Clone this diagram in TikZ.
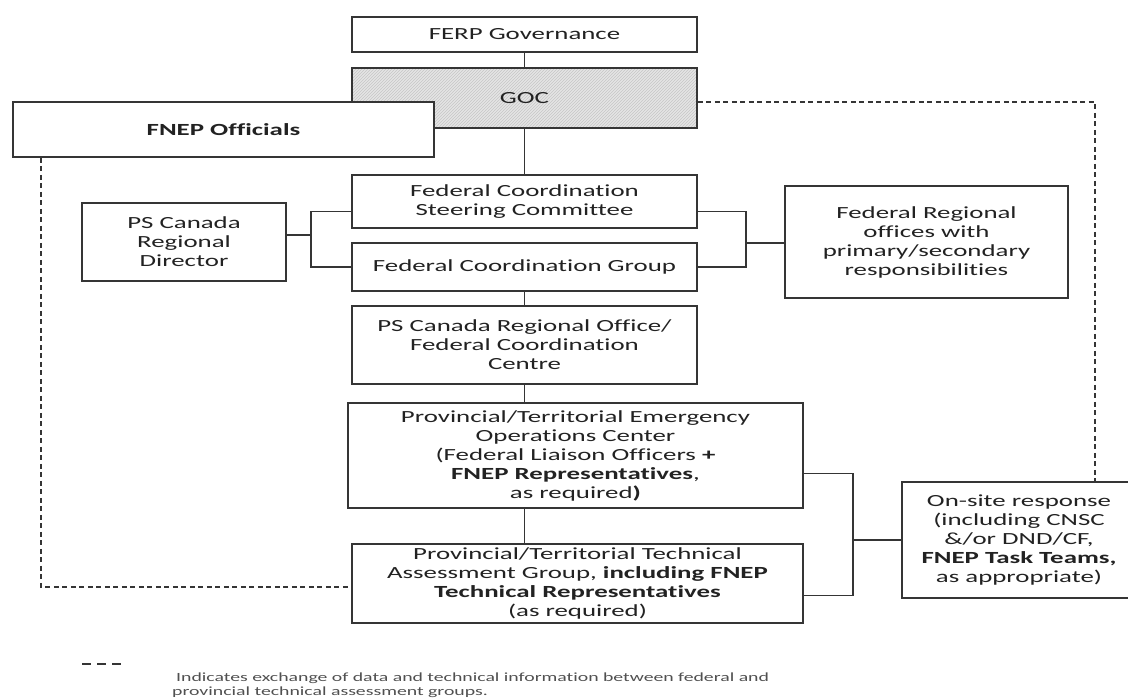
\documentclass[tikz,border=0pt]{standalone}
\usepackage{fontspec}
\setmainfont{Carlito}[FakeStretch=1.58, Ligatures=NoCommon]
\usetikzlibrary{patterns}
\definecolor{linegray}{HTML}{353535}
\definecolor{textgray}{HTML}{222222}
\definecolor{notegray}{HTML}{505050}
\tikzset{
  orgbox/.style={draw=linegray, line width=1.8pt, fill=white, align=center, inner sep=0pt,
    text=textgray, font=\fontsize{17}{19}\selectfont},
  hatchbox/.style={orgbox, preaction={fill=gray!20}, pattern=north east lines, pattern color=gray!45},
  link/.style={draw=linegray, line width=1.5pt},
  datalink/.style={draw=linegray, line width=1.5pt, dash pattern=on 5pt off 3.5pt},
  keydash/.style={draw=linegray, line width=1.6pt, dash pattern=on 9pt off 6pt},
  notetext/.style={align=left, inner sep=0pt, text=notegray, font=\fontsize{12.5}{14}\selectfont}
}
\begin{document}
\begin{tikzpicture}[x=1pt, y=-1pt]
    \fill[white] (0,0) rectangle (1128,698);
    \useasboundingbox (0,0) rectangle (1128,698);
    % Nodes
    \node[orgbox, minimum width=345, minimum height=35] (ferp) at (524.5,34.5) {FERP Governance};
    \node[hatchbox, minimum width=345, minimum height=60] (goc) at (524.5,98) {GOC};
    \node[orgbox, minimum width=421, minimum height=55] (fnep) at (223.5,129.5) {\textbf{FNEP Officials}};

    \node[orgbox, minimum width=345, minimum height=53] (fcsc) at (524.5,201.5) {Federal Coordination\\Steering Committee};
    \node[orgbox, minimum width=345, minimum height=48] (fcg) at (524.5,267) {Federal Coordination Group};
    \node[orgbox, minimum width=204, minimum height=78] (psrd) at (184,242) {PS Canada\\Regional\\Director};
    \node[orgbox, minimum width=283, minimum height=112] (fro) at (926.5,242) {Federal Regional\\offices with\\primary/secondary\\responsibilities};

    \node[orgbox, minimum width=345, minimum height=78] (psro) at (524.5,345) {PS Canada Regional Office/\\Federal Coordination\\Centre};
    \node[orgbox, minimum width=455, minimum height=105] (pteoc) at (575.5,455.5) {Provincial/Territorial Emergency\\Operations Center\\(Federal Liaison Officers \textbf{+}\\\textbf{FNEP Representatives},\\as required\textbf{)}};
    \node[orgbox, minimum width=451, minimum height=79] (pttag) at (577.5,583.5) {Provincial/Territorial Technical\\Assessment Group, \textbf{including FNEP}\\\textbf{Technical Representatives}\\(as required)};
    \node[orgbox, minimum width=234, minimum height=116] (onsite) at (1019,540) {On-site response\\(including CNSC\\\&/or DND/CF,\\\textbf{FNEP Task Teams,}\\as appropriate)};

    \coordinate (lbr) at (311,235);
    \coordinate (rbr) at (746,243);
    \coordinate (pbr) at (853,540);
    \coordinate (cornerR) at (1095,102);
    \coordinate (cornerL) at (41,587);
    % Connection
    \draw[link] (ferp.south) -- (goc.north);
    \draw[link] (goc.south) -- (fcsc.north);
    \draw[link] (fcg.south) -- (psro.north);
    \draw[link] (psro.south) -- (psro.south |- pteoc.north);
    \draw[link] (pteoc.south -| psro.south) -- (psro.south |- pttag.north);
    \draw[link] (psrd.east |- lbr) -- (lbr);
    \draw[link] ([yshift=-10pt]fcsc.west) -| (lbr) |- (fcg.west);
    \draw[link] ([yshift=-10pt]fcsc.east) -| (rbr) |- (fcg.east);
    \draw[link] (rbr) -- (rbr -| fro.west);
    \draw[link] ([yshift=-18pt]pteoc.east) -| (pbr) |- ([yshift=-12pt]pttag.east);
    \draw[link] (pbr) -- (onsite.west);
    \draw[datalink] ([yshift=-4pt]goc.east) -- (cornerR) -- (cornerR |- onsite.north);
    \draw[datalink] (fnep.south -| cornerL) -- (cornerL) -- (cornerL -| pttag.west);

    % Key
    \coordinate (keyA) at (82,664);
    \coordinate (keyB) at (123,664);
    \draw[keydash] (keyA) -- (keyB);
    \node[notetext, anchor=west] (keytext) at (172,685) {\hspace*{4pt}Indicates exchange of data and technical information between federal and\\provincial technical assessment groups.};
\end{tikzpicture}
\end{document}
